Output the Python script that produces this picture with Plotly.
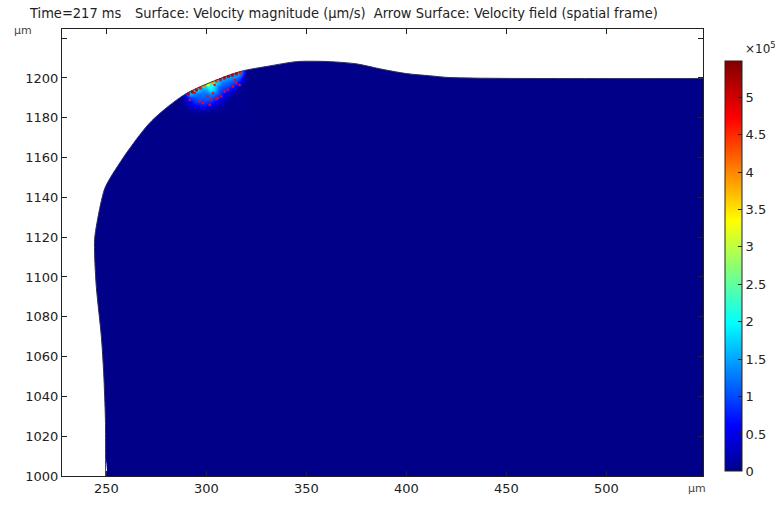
import plotly.graph_objects as go

# ---- data ----
# droplet / domain boundary (µm), from bottom-left, up and over to the right edge
bnd_x = [249.6, 249.6, 249.5, 248.65, 247.5, 245.0, 244.15, 244.15, 246.65, 249.15, 251.65,
         260.8, 272.5, 289.15, 305.8, 317.5, 330.8, 345.0, 352.0, 361.65, 375.0, 386.65, 400.0,
         411.65, 421.65, 448.15, 549.0]
bnd_y = [1000.0, 1010.0, 1028.5, 1051.5, 1069.8, 1094.6, 1110.0, 1119.5, 1134.4, 1144.4, 1149.3,
         1163.4, 1178.3, 1191.7, 1199.3, 1203.4, 1205.9, 1208.2, 1208.4, 1208.2, 1207.1, 1204.6, 1202.2,
         1201.1, 1200.2, 1199.8, 1199.7]

# velocity magnitude below the surface in the hot spot (units of 1e5 µm/s)
hot_x = [288, 290, 292, 294, 296, 298, 300, 302, 304, 306, 308, 310, 312, 314, 316, 318, 320]
hot_y = [1182, 1184, 1186, 1188, 1190, 1192, 1194, 1196, 1198, 1200, 1202, 1204, 1206]
hot_v = [
    [0, 0,   0,   0,   0,   0,   0,   0,   0,   0,   0,   0,   0,   0,   0,   0,   0],
    [0, 0,   0.1, 0.1, 0.2, 0.2, 0.2, 0.1, 0.1, 0,   0,   0,   0,   0,   0,   0,   0],
    [0, 0.1, 0.3, 0.5, 0.6, 0.7, 0.6, 0.5, 0.3, 0.2, 0.1, 0,   0,   0,   0,   0,   0],
    [0, 0.3, 0.6, 0.8, 0.9, 0.9, 0.9, 0.8, 0.6, 0.5, 0.3, 0,   0,   0,   0,   0,   0],
    [0, 0.5, 0.9, 1.0, 1.1, 1.1, 1.1, 1.1, 0.9, 0.7, 0.5, 0.3, 0,   0,   0,   0,   0],
    [0, 1.0, 1.6, 1.3, 1.2, 1.2, 1.2, 1.3, 1.2, 1.0, 0.7, 0.5, 0.3, 0,   0,   0,   0],
    [0, 1.0, 1.6, 1.8, 1.7, 1.4, 1.5, 1.9, 1.6, 1.1, 0.9, 0.8, 0.6, 0.4, 0,   0,   0],
    [0, 1.0, 1.6, 1.8, 1.8, 1.9, 1.9, 2.2, 1.8, 1.3, 1.1, 1.0, 0.9, 0.7, 0.5, 0,   0],
    [0, 1.0, 1.6, 1.8, 1.8, 1.9, 1.9, 2.0, 2.0, 1.6, 1.3, 1.2, 1.1, 1.0, 0.7, 0.4, 0],
    [0, 1.0, 1.6, 1.8, 1.8, 1.9, 1.9, 2.0, 2.0, 1.8, 1.6, 1.5, 1.4, 1.3, 1.1, 0.6, 0],
    [0, 1.0, 1.6, 1.8, 1.8, 1.9, 1.9, 2.0, 2.0, 1.8, 1.6, 1.6, 1.6, 1.6, 1.5, 1.0, 0],
    [0, 1.0, 1.6, 1.8, 1.8, 1.9, 1.9, 2.0, 2.0, 1.8, 1.6, 1.6, 1.6, 1.6, 1.5, 1.2, 0],
    [0, 1.0, 1.6, 1.8, 1.8, 1.9, 1.9, 2.0, 2.0, 1.8, 1.6, 1.6, 1.6, 1.6, 1.5, 1.2, 0],
]
# thin high-velocity strip right at the free surface
edge_x = [291, 293, 295, 297, 299, 301, 303, 305, 307, 309, 311, 313, 315, 317]
edge_y = [1192.0, 1192.95, 1193.9, 1194.8, 1195.7, 1196.6, 1197.5, 1198.35, 1199.15, 1199.95,
          1200.7, 1201.35, 1201.95, 1202.55]
edge_v = [5.0, 5.1, 4.9, 4.6, 4.0, 3.4, 3.8, 4.4, 4.7, 4.9, 5.0, 5.0, 4.9, 4.6]
v_max = 5.48

# small red arrow heads inside the hot spot (µm)
arr_x = [291.65, 296.65, 298.3, 300.8, 302.5, 303.3, 305.0, 305.8, 307.5, 309.15, 310.8,
         313.3, 315.0, 314.15, 316.65, 301.65, 304.15, 294.15]
arr_y = [1189.0, 1188.15, 1187.35, 1190.65, 1189.0, 1192.35, 1189.35, 1189.85, 1190.65, 1193.15, 1194.0,
         1195.65, 1197.35, 1199.0, 1196.5, 1186.5, 1196.5, 1192.5]

cb_vals = [0, 0.5, 1, 1.5, 2, 2.5, 3, 3.5, 4, 4.5, 5]
cb_text = ["0", "0.5", "1", "1.5", "2", "2.5", "3", "3.5", "4", "4.5", "5"]
x_ticks = [250, 300, 350, 400, 450, 500]
y_ticks = [1000, 1020, 1040, 1060, 1080, 1100, 1120, 1140, 1160, 1180, 1200, 1220]
y_text = ["1000", "1020", "1040", "1060", "1080", "1100", "1120", "1140", "1160", "1180", "1200", ""]

X_RANGE = [227.8, 548.3]
Y_RANGE = [1000, 1224.6]

jet = [[0.0, "rgb(0,0,143)"], [0.11, "rgb(0,0,255)"], [0.36, "rgb(0,255,255)"],
       [0.61, "rgb(255,255,0)"], [0.86, "rgb(255,0,0)"], [1.0, "rgb(128,0,0)"]]
DOMAIN = "rgb(0,0,136)"

W, H = 783, 508
L, R, T, B = 62, 78, 29, 28
plot_h = H - T - B

fig = go.Figure()

# hot spot field (domain elsewhere ~ 0 -> plot background colour)
fig.add_trace(go.Heatmap(
    x=hot_x, y=hot_y, z=hot_v, coloraxis="coloraxis", zsmooth="best", hoverinfo="skip"))

# white area outside the domain
fig.add_trace(go.Scatter(
    x=[220.0] + bnd_x + [560.0, 560.0, 220.0], y=[1000.0] + bnd_y + [1199.7, 1240.0, 1240.0],
    fill="toself", fillcolor="white", mode="lines",
    line=dict(width=0, color="white", shape="spline", smoothing=0.8),
    hoverinfo="skip", showlegend=False))

# thin fast strip at the surface
fig.add_trace(go.Scatter(
    x=edge_x, y=edge_y, mode="markers",
    marker=dict(color=edge_v, coloraxis="coloraxis", size=3.5, line=dict(width=0)),
    hoverinfo="skip", showlegend=False))

# boundary line
fig.add_trace(go.Scatter(
    x=bnd_x, y=bnd_y, mode="lines", line=dict(color="#333", width=1, shape="spline", smoothing=0.8),
    hoverinfo="skip", showlegend=False))

# arrows
fig.add_trace(go.Scatter(
    x=arr_x, y=arr_y, mode="markers", marker=dict(color="red", size=2.2, symbol="square"),
    hoverinfo="skip", showlegend=False))

axis_common = dict(showgrid=False, zeroline=False, showline=True, linecolor="#222", linewidth=1,
                   mirror="ticks", ticks="inside", ticklen=5, tickcolor="#222",
                   tickfont=dict(family="DejaVu Sans", size=13, color="#222"))

title_font = dict(family="DejaVu Sans Condensed, DejaVu Sans", size=14.5, color="#222")

fig.update_layout(
    width=W, height=H, margin=dict(l=L, r=R, t=T, b=B),
    paper_bgcolor="white", plot_bgcolor=DOMAIN,
    xaxis=dict(range=X_RANGE, tickvals=x_ticks, **axis_common),
    yaxis=dict(range=Y_RANGE, tickvals=y_ticks, ticktext=y_text, **axis_common),
    coloraxis=dict(
        cmin=0, cmax=v_max, colorscale=jet,
        colorbar=dict(
            thickness=17, thicknessmode="pixels", len=410, lenmode="pixels",
            x=(727 - L) / (W - L - R), xanchor="left", xpad=0, ypad=0,
            y=(H - B - 268.5) / plot_h, yanchor="middle",
            outlinecolor="#222", outlinewidth=1,
            tickvals=cb_vals, ticktext=cb_text, ticks="inside", ticklen=4, tickcolor="#222",
            tickfont=dict(family="DejaVu Sans", size=13, color="#222"),
        )),
    annotations=[
        dict(text="Time=217 ms", x=27, y=13, showarrow=False,
             xanchor="left", yanchor="middle", font=title_font),
        dict(text="Surface: Velocity magnitude (µm/s)  Arrow Surface: Velocity field (spatial frame)",
             x=133, y=13, showarrow=False,
             xanchor="left", yanchor="middle", font=title_font),
        dict(text="µm", x=12, y=31, showarrow=False, xanchor="left", yanchor="middle",
             font=dict(family="DejaVu Sans", size=11, color="#444")),
        dict(text="µm", x=688, y=493, showarrow=False, xanchor="left", yanchor="middle",
             font=dict(family="DejaVu Sans", size=11, color="#444")),
        dict(text="×10<sup>5</sup>", x=745, y=48, showarrow=False, xanchor="left", yanchor="middle",
             font=dict(family="DejaVu Sans", size=12, color="#222")),
    ],
)

# convert pixel positions of the annotations to paper coordinates
pw, ph = W - L - R, plot_h
for a in fig.layout.annotations:
    px, py = a.x, a.y
    a.x = (px - L) / pw
    a.y = (H - B - py) / ph
    a.xref = "paper"
    a.yref = "paper"

fig.write_html("out.html")
